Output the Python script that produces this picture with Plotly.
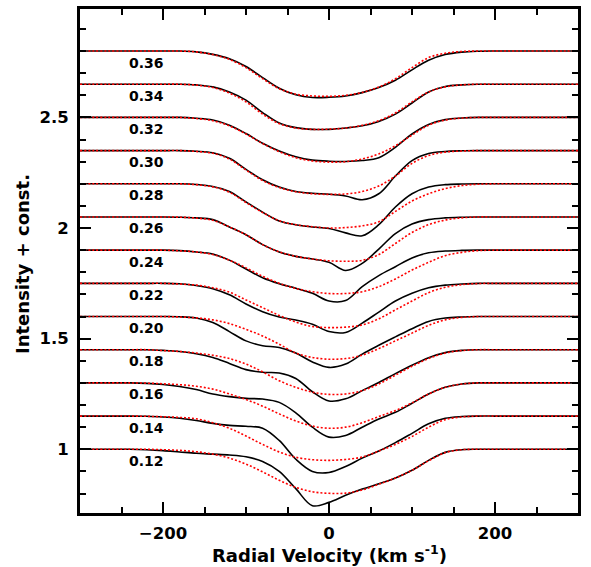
import plotly.graph_objects as go

# Radial velocity grid (km/s)
velocity = [-300, -240, -220, -200, -180, -160, -140, -120, -100, -80, -60, -40, -20,
            0, 20, 40, 60, 80, 100, 120, 140, 160, 180, 200, 220, 240, 300]

phases = ["0.12", "0.14", "0.16", "0.18", "0.20", "0.22", "0.24",
          "0.26", "0.28", "0.30", "0.32", "0.34", "0.36"]
offset_step = 0.15

# line depth below the continuum, observed (black) and model (red)
obs_012 = [0, 0, 0.002, 0.006, 0.012, 0.018, 0.022, 0.026, 0.034, 0.055, 0.1, 0.178, 0.255, 0.24, 0.208, 0.18, 0.156, 0.13, 0.095, 0.05, 0.014, 0.002, 0, 0, 0, 0, 0]
mod_012 = [0, 0, 0, 0.002, 0.005, 0.011, 0.022, 0.04, 0.067, 0.102, 0.14, 0.172, 0.192, 0.199, 0.198, 0.184, 0.158, 0.13, 0.095, 0.052, 0.015, 0.002, 0, 0, 0, 0, 0]
obs_014 = [0, 0, 0.001, 0.004, 0.01, 0.02, 0.033, 0.042, 0.046, 0.055, 0.11, 0.195, 0.25, 0.255, 0.228, 0.19, 0.158, 0.12, 0.078, 0.035, 0.01, 0.002, 0, 0, 0, 0, 0]
mod_014 = [0, 0, 0.001, 0.003, 0.006, 0.012, 0.03, 0.055, 0.09, 0.128, 0.162, 0.186, 0.197, 0.2, 0.196, 0.185, 0.158, 0.128, 0.092, 0.05, 0.016, 0.004, 0, 0, 0, 0, 0]
obs_016 = [0, 0, 0.002, 0.007, 0.016, 0.03, 0.05, 0.062, 0.07, 0.073, 0.088, 0.135, 0.2, 0.245, 0.238, 0.2, 0.163, 0.133, 0.092, 0.05, 0.02, 0.005, 0, 0, 0, 0, 0]
mod_016 = [0, 0, 0.001, 0.004, 0.008, 0.015, 0.028, 0.05, 0.075, 0.105, 0.14, 0.172, 0.195, 0.205, 0.2, 0.18, 0.152, 0.125, 0.09, 0.05, 0.02, 0.005, 0, 0, 0, 0, 0]
obs_018 = [0, 0, 0, 0.003, 0.008, 0.018, 0.035, 0.062, 0.09, 0.102, 0.105, 0.13, 0.19, 0.232, 0.222, 0.185, 0.148, 0.108, 0.07, 0.036, 0.013, 0.003, 0, 0, 0, 0, 0]
mod_018 = [0, 0, 0, 0.004, 0.008, 0.015, 0.025, 0.04, 0.065, 0.1, 0.14, 0.17, 0.192, 0.202, 0.2, 0.185, 0.155, 0.115, 0.075, 0.04, 0.015, 0.004, 0, 0, 0, 0, 0]
obs_020 = [0, 0, 0, 0, 0.001, 0.007, 0.027, 0.068, 0.11, 0.132, 0.14, 0.165, 0.205, 0.23, 0.215, 0.17, 0.13, 0.092, 0.055, 0.022, 0.007, 0.002, 0, 0, 0, 0, 0]
mod_020 = [0, 0, 0, 0, 0.002, 0.006, 0.015, 0.032, 0.058, 0.088, 0.125, 0.165, 0.185, 0.193, 0.19, 0.175, 0.145, 0.11, 0.075, 0.04, 0.015, 0.004, 0, 0, 0, 0, 0]
obs_022 = [0, 0, 0, 0, 0.002, 0.01, 0.024, 0.052, 0.093, 0.128, 0.152, 0.166, 0.185, 0.218, 0.222, 0.18, 0.13, 0.08, 0.045, 0.02, 0.008, 0.003, 0, 0, 0, 0, 0]
mod_022 = [0, 0, 0, 0, 0.003, 0.008, 0.02, 0.04, 0.075, 0.11, 0.145, 0.175, 0.195, 0.2, 0.198, 0.188, 0.16, 0.12, 0.08, 0.042, 0.018, 0.006, 0.001, 0, 0, 0, 0]
obs_024 = [0, 0, 0, 0, 0.002, 0.008, 0.018, 0.045, 0.085, 0.125, 0.152, 0.172, 0.195, 0.23, 0.228, 0.165, 0.115, 0.075, 0.035, 0.012, 0.004, 0.001, 0, 0, 0, 0, 0]
mod_024 = [0, 0, 0, 0, 0.003, 0.008, 0.02, 0.045, 0.08, 0.118, 0.15, 0.173, 0.188, 0.196, 0.196, 0.188, 0.165, 0.13, 0.09, 0.055, 0.025, 0.01, 0.002, 0, 0, 0, 0]
obs_026 = [0, 0, 0, 0, 0.001, 0.004, 0.012, 0.045, 0.08, 0.125, 0.158, 0.178, 0.19, 0.205, 0.242, 0.21, 0.145, 0.075, 0.032, 0.012, 0.004, 0.001, 0, 0, 0, 0, 0]
mod_026 = [0, 0, 0, 0, 0.001, 0.005, 0.015, 0.045, 0.08, 0.125, 0.158, 0.178, 0.19, 0.198, 0.2, 0.196, 0.17, 0.12, 0.07, 0.035, 0.014, 0.004, 0, 0, 0, 0, 0]
obs_028 = [0, 0, 0, 0, 0, 0.003, 0.012, 0.035, 0.082, 0.128, 0.168, 0.185, 0.195, 0.202, 0.222, 0.235, 0.185, 0.105, 0.045, 0.015, 0.004, 0.001, 0, 0, 0, 0, 0]
mod_028 = [0, 0, 0, 0, 0, 0.004, 0.014, 0.038, 0.085, 0.13, 0.167, 0.185, 0.194, 0.2, 0.198, 0.19, 0.172, 0.125, 0.078, 0.045, 0.022, 0.008, 0.002, 0, 0, 0, 0]
obs_030 = [0, 0, 0, 0, 0, 0.003, 0.01, 0.035, 0.085, 0.132, 0.165, 0.185, 0.193, 0.197, 0.205, 0.222, 0.195, 0.115, 0.045, 0.013, 0.004, 0.001, 0, 0, 0, 0, 0]
mod_030 = [0, 0, 0, 0, 0, 0.004, 0.012, 0.038, 0.088, 0.135, 0.167, 0.186, 0.195, 0.198, 0.196, 0.185, 0.16, 0.115, 0.058, 0.022, 0.007, 0.002, 0, 0, 0, 0, 0]
obs_032 = [0, 0, 0, 0, 0, 0.004, 0.012, 0.035, 0.073, 0.117, 0.152, 0.178, 0.193, 0.198, 0.199, 0.195, 0.182, 0.135, 0.075, 0.032, 0.01, 0.003, 0, 0, 0, 0, 0]
mod_032 = [0, 0, 0, 0, 0, 0.005, 0.015, 0.038, 0.075, 0.118, 0.155, 0.182, 0.197, 0.202, 0.2, 0.188, 0.165, 0.128, 0.08, 0.035, 0.012, 0.003, 0, 0, 0, 0, 0]
obs_034 = [0, 0, 0, 0, 0, 0.003, 0.012, 0.035, 0.072, 0.128, 0.175, 0.196, 0.204, 0.204, 0.198, 0.188, 0.168, 0.135, 0.085, 0.035, 0.01, 0.003, 0, 0, 0, 0, 0]
mod_034 = [0, 0, 0, 0, 0, 0.004, 0.015, 0.04, 0.08, 0.135, 0.178, 0.198, 0.204, 0.203, 0.198, 0.186, 0.165, 0.13, 0.08, 0.035, 0.012, 0.003, 0, 0, 0, 0, 0]
obs_036 = [0, 0, 0, 0, 0, 0.004, 0.015, 0.035, 0.07, 0.12, 0.168, 0.198, 0.21, 0.209, 0.203, 0.188, 0.165, 0.132, 0.085, 0.042, 0.016, 0.005, 0.001, 0, 0, 0, 0]
mod_036 = [0, 0, 0, 0, 0, 0.004, 0.016, 0.038, 0.075, 0.125, 0.17, 0.195, 0.203, 0.205, 0.2, 0.187, 0.163, 0.125, 0.075, 0.03, 0.01, 0.002, 0, 0, 0, 0, 0]

observed = [obs_012, obs_014, obs_016, obs_018, obs_020, obs_022, obs_024,
            obs_026, obs_028, obs_030, obs_032, obs_034, obs_036]
model = [mod_012, mod_014, mod_016, mod_018, mod_020, mod_022, mod_024,
         mod_026, mod_028, mod_030, mod_032, mod_034, mod_036]

for arr in observed + model:
    assert len(arr) == len(velocity), len(arr)

FONT = "DejaVu Sans"
fig = go.Figure()

for i, ph in enumerate(phases):
    base = 1.0 + offset_step * i
    fig.add_trace(go.Scatter(
        x=velocity, y=[base - d for d in observed[i]], mode="lines",
        line=dict(color="black", width=1.6, shape="spline", smoothing=1.0),
        hoverinfo="skip"))
for i, ph in enumerate(phases):
    base = 1.0 + offset_step * i
    fig.add_trace(go.Scatter(
        x=velocity, y=[base - d for d in model[i]], mode="lines",
        line=dict(color="#ff0000", width=1.6, dash="2px,2px", shape="spline", smoothing=1.0),
        hoverinfo="skip"))

annotations = []
for i, ph in enumerate(phases):
    base = 1.0 + offset_step * i
    annotations.append(dict(x=-220, y=base - 0.052, xref="x", yref="y", text=ph,
                            showarrow=False,
                            font=dict(family=FONT, size=14, color="black", weight="bold"),
                            xanchor="center", yanchor="middle"))
annotations.append(dict(x=0.5, y=-0.081, xref="paper", yref="paper",
                        text="Radial Velocity (km s<sup>-1</sup>)", showarrow=False,
                        font=dict(family=FONT, size=18, color="black", weight="bold"),
                        xanchor="center", yanchor="middle"))
annotations.append(dict(x=-0.1165, y=0.494, xref="paper", yref="paper",
                        text="Intensity + const.", showarrow=False, textangle=-90,
                        font=dict(family=FONT, size=18, color="black", weight="bold"),
                        xanchor="center", yanchor="middle"))

axis_common = dict(showline=True, linewidth=3, linecolor="black", mirror="allticks",
                   ticks="inside", ticklen=11, tickwidth=2, tickcolor="black",
                   showgrid=False, zeroline=False,
                   tickfont=dict(family=FONT, size=16.5, color="black", weight="bold"))

fig.update_layout(
    width=591, height=567,
    margin=dict(l=80, r=13, t=6, b=54),
    plot_bgcolor="white", paper_bgcolor="white",
    showlegend=False,
    font=dict(family=FONT, color="black"),
    xaxis=dict(range=[-300, 300], tickmode="linear", tick0=0, dtick=200,
               ticklabelstandoff=3,
               minor=dict(dtick=50, ticks="inside", ticklen=6, tickwidth=2, tickcolor="black", showgrid=False),
               **axis_common),
    yaxis=dict(range=[0.712, 2.99], tickmode="linear", tick0=0, dtick=0.5,
               ticklabelstandoff=5,
               minor=dict(dtick=0.1, ticks="inside", ticklen=6, tickwidth=2, tickcolor="black", showgrid=False),
               **axis_common),
    annotations=annotations,
)

fig.write_html("out.html")
